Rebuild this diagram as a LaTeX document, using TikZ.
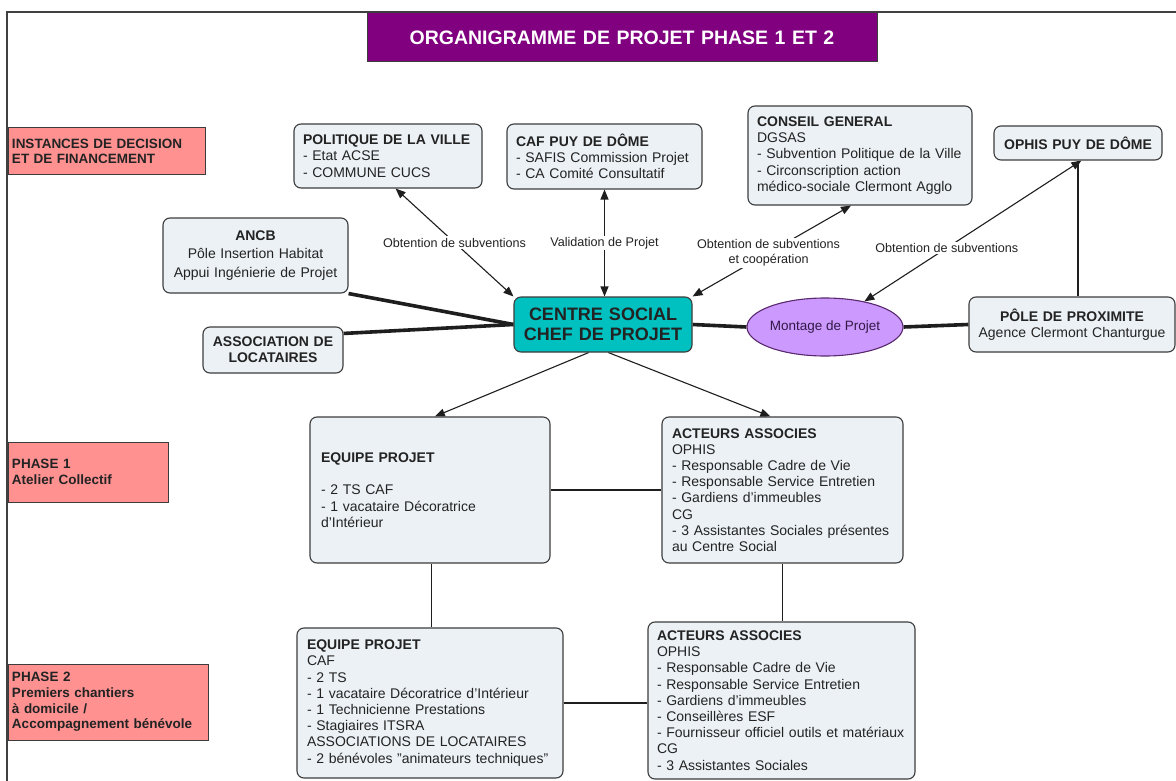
\documentclass[tikz,border=0pt]{standalone}
\usepackage{fontspec}
\setmainfont{Liberation Sans}
\usetikzlibrary{arrows.meta,calc,shapes.geometric,backgrounds}
\definecolor{boxfill}{RGB}{236,241,245}
\definecolor{boxline}{RGB}{60,60,60}
\definecolor{pinkfill}{RGB}{255,145,145}
\definecolor{titlefill}{RGB}{128,0,128}
\definecolor{tealfill}{RGB}{0,192,192}
\definecolor{lavfill}{RGB}{204,153,255}
\definecolor{lavline}{RGB}{90,40,110}
\definecolor{lavtext}{RGB}{50,25,70}
\definecolor{conn}{RGB}{30,30,30}
\definecolor{txt}{RGB}{35,35,35}
\newcommand\fbody{\fontsize{14}{16.2}\selectfont}
\newcommand\flab{\fontsize{12.6}{14.8}\selectfont}
\newcommand\fpink{\fontsize{13.5}{15.6}\selectfont\bfseries}
% name, left, top, right, bottom, xpad, style, text
\newcommand\mkbox[8]{%
  \pgfmathsetmacro\bxcx{(#2+#4)/2}%
  \pgfmathsetmacro\bxcy{-(#3+#5)/2}%
  \pgfmathsetmacro\bxw{#4-#2}%
  \pgfmathsetmacro\bxh{#5-#3}%
  \pgfmathsetmacro\bxtw{#4-#2-2*#6}%
  \node[#7, minimum width=\bxw pt, minimum height=\bxh pt, text width=\bxtw pt, inner xsep=#6 pt] (#1) at (\bxcx,\bxcy) {#8};}
\tikzset{
  box/.style={draw=boxline, fill=boxfill, rounded corners=7pt, line width=1.1pt, inner ysep=2pt, font=\fbody, text=txt, align=left},
  cbox/.style={box, align=center},
  pinkbox/.style={draw=boxline, fill=pinkfill, line width=1pt, inner ysep=2pt, font=\fpink, text=txt, align=left},
  titlebox/.style={draw=boxline, fill=titlefill, line width=1pt, inner ysep=2pt, font=\fontsize{19.5}{22}\selectfont\bfseries, text=white, align=center},
  centrebox/.style={draw=boxline, fill=tealfill, rounded corners=7pt, line width=1.1pt, inner ysep=2pt, font=\fontsize{18}{20}\selectfont\bfseries, text=txt, align=center},
  ellnode/.style={ellipse, draw=lavline, fill=lavfill, line width=1.1pt, inner sep=0pt, minimum width=147pt, minimum height=58pt, font=\fontsize{13.5}{16}\selectfont, text=lavtext},
  link/.style={draw=conn, line width=1.1pt},
  thick link/.style={draw=conn, line width=3.6pt},
  arr/.style={link, {Triangle[length=10pt,width=8pt]}-{Triangle[length=10pt,width=8pt]}},
  arr1/.style={link, -{Triangle[length=10pt,width=8pt]}},
  lab/.style={fill=white, inner sep=1.5pt, font=\flab, text=txt, align=center},
  frame/.style={draw=black!75, line width=1.6pt}
}
\begin{document}
\begin{tikzpicture}[x=1pt,y=1pt]
\useasboundingbox (0,0) rectangle (1176,-781);
\draw[frame] (7,-781) -- (7,-12) -- (1176,-12);

\mkbox{title}{367}{13}{877}{62}{6}{titlebox}{ORGANIGRAMME DE PROJET PHASE 1 ET 2}

\mkbox{inst}{8}{128}{205}{175}{4}{pinkbox}{INSTANCES DE DECISION\\ET DE FINANCEMENT}
\mkbox{ph1}{8}{442}{168}{502}{4}{pinkbox}{PHASE 1\\Atelier Collectif\\[6pt]}
\mkbox{ph2}{8}{664}{208}{740}{4}{pinkbox}{PHASE 2\\Premiers chantiers\\à domicile /\\Accompagnement bénévole}

\mkbox{pol}{294}{124}{482}{188}{9}{box}{\textbf{POLITIQUE DE LA VILLE}\\- Etat ACSE\\- COMMUNE CUCS}
\mkbox{caf}{507}{124}{702}{189}{9}{box}{\textbf{CAF PUY DE DÔME}\\- SAFIS Commission Projet\\- CA Comité Consultatif}
\mkbox{cg}{748}{106}{972}{205}{9}{box}{\textbf{CONSEIL GENERAL}\\DGSAS\\- Subvention Politique de la Ville\\- Circonscription action\\médico-sociale Clermont Agglo}
\mkbox{ophis}{994}{126}{1162}{160}{6}{cbox}{\textbf{OPHIS PUY DE DÔME}}

\mkbox{ancb}{163}{218}{348}{293}{6}{cbox}{\textbf{ANCB}\\[2pt]Pôle Insertion Habitat\\[2pt]Appui Ingénierie de Projet}
\mkbox{assoc}{203}{327}{343}{373}{6}{cbox}{\textbf{ASSOCIATION DE}\\\textbf{LOCATAIRES}}
\mkbox{centre}{514}{297}{692}{352}{6}{centrebox}{CENTRE SOCIAL\\CHEF DE PROJET}
\node[ellnode] (mont) at (825,-327) {Montage de Projet};
\mkbox{pole}{969}{297}{1175}{352}{6}{cbox}{\textbf{PÔLE DE PROXIMITE}\\Agence Clermont Chanturgue}

\mkbox{eq1}{310}{417}{550}{563}{11}{box}{\textbf{EQUIPE PROJET}\\[16.2pt]- 2 TS CAF\\- 1 vacataire Décoratrice\\d'Intérieur}
\mkbox{ac1}{662}{417}{903}{563}{10}{box}{\textbf{ACTEURS ASSOCIES}\\OPHIS\\- Responsable Cadre de Vie\\- Responsable Service Entretien\\- Gardiens d'immeubles\\CG\\- 3 Assistantes Sociales présentes\\au Centre Social}
\mkbox{eq2}{297}{628}{563}{778}{10}{box}{\textbf{EQUIPE PROJET}\\CAF\\- 2 TS\\- 1 vacataire Décoratrice d'Intérieur\\- 1 Technicienne Prestations\\- Stagiaires ITSRA\\ASSOCIATIONS DE LOCATAIRES\\- 2 bénévoles "animateurs techniques"}
\mkbox{ac2}{648}{622}{915}{779}{9}{box}{\textbf{ACTEURS ASSOCIES}\\OPHIS\\- Responsable Cadre de Vie\\- Responsable Service Entretien\\- Gardiens d'immeubles\\- Conseillères ESF\\- Fournisseur officiel outils et matériaux\\CG\\- 3 Assistantes Sociales}

\begin{pgfonlayer}{background}
  \fill[white] (0,0) rectangle (1176,-781);
  % thick links
  \draw[thick link] (ancb.south east) -- (centre.west);
  \draw[thick link] ($(assoc.north east)+(0,-7)$) -- (centre.west);
  \draw[thick link] (centre.east) -- (mont.west);
  \draw[thick link] (mont.east) -- (pole.west);
  % arrows with labels
  \draw[arr] ($(pol.south west)!0.54!(pol.south east)$) -- (centre.north west)
     node[lab, pos=0.5] {Obtention de subventions};
  \draw[arr] (caf.south) -- (caf.south |- centre.north)
     node[lab, pos=0.5] {Validation de Projet};
  \draw[arr] ($(cg.south west)!0.46!(cg.south east)$) -- (centre.north east)
     node[lab, pos=0.52] {Obtention de subventions\\et coopération};
  \draw[arr] ($(ophis.south west)!0.52!(ophis.south east)$) -- (mont)
     node[lab, pos=0.62] {Obtention de subventions};
  % thin links
  \draw[link] (ophis.south) -- (ophis.south |- pole.north);
  \draw[arr1] ($(centre.south west)!0.42!(centre.south east)$) -- ($(eq1.north west)!0.52!(eq1.north east)$);
  \draw[arr1] ($(centre.south west)!0.53!(centre.south east)$) -- ($(ac1.north west)!0.45!(ac1.north east)$);
  \draw[link] (eq1.east) -- (eq1.east -| ac1.west);
  \coordinate (eqx) at ($(eq1.south west)+(122,0)$);
  \draw[link] (eqx) -- (eqx |- eq2.north);
  \draw[link] (ac1.south) -- (ac1.south |- ac2.north);
  \draw[link] (eq2.east) -- (eq2.east -| ac2.west);
\end{pgfonlayer}
\end{tikzpicture}
\end{document}
